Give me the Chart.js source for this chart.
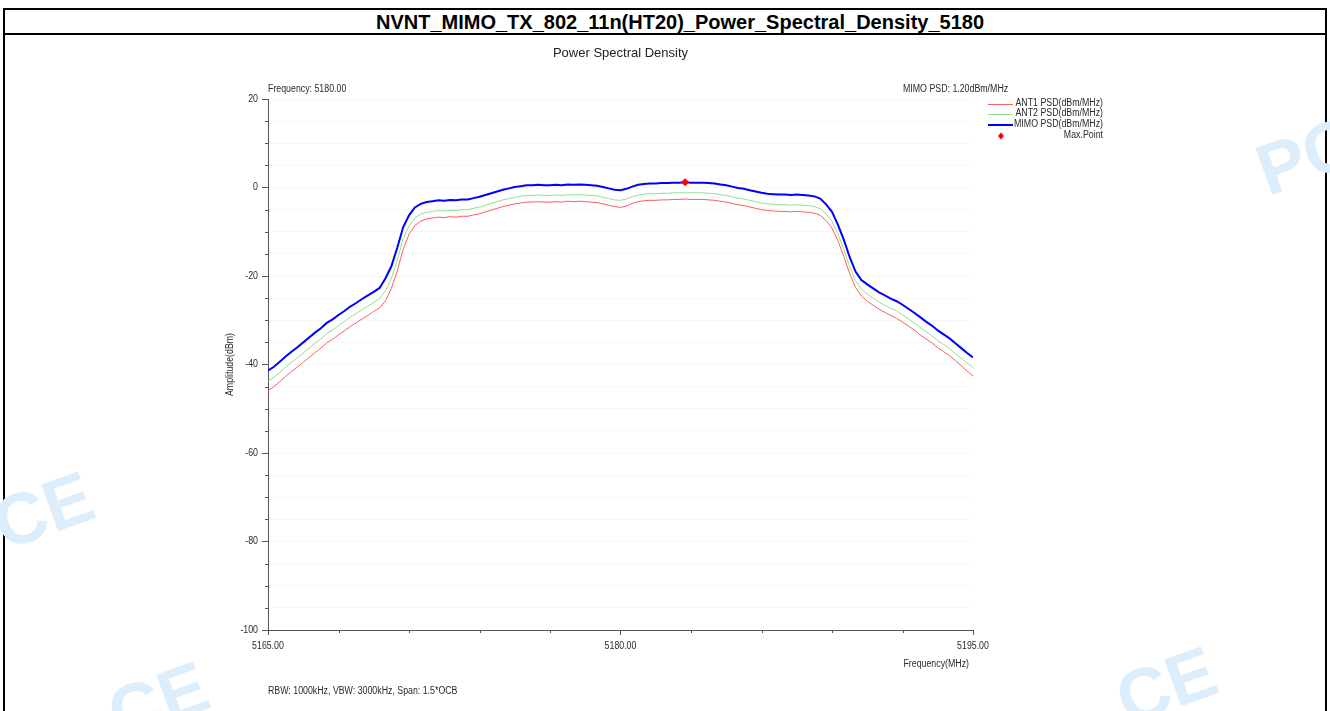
<!DOCTYPE html>
<html>
<head>
<meta charset="utf-8">
<script src="https://cdn.jsdelivr.net/npm/chart.js@4.4.1/dist/chart.umd.min.js"></script>
<style>
  html, body { margin: 0; padding: 0; background: #fff; }
  body { width: 1330px; height: 711px; position: relative; overflow: hidden; font-family: "Liberation Sans", Arial, sans-serif; }
  #frame { position: absolute; left: 3px; top: 8px; width: 1324px; height: 760px; border: 2px solid #000; box-sizing: border-box; }
  #sep { position: absolute; left: 3px; top: 33px; width: 1324px; height: 2px; background: #000; }
  #title { position: absolute; left: 30px; top: 10px; width: 1300px; height: 23px; line-height: 24px; text-align: center; font-weight: bold; font-size: 20px; color: #000; }
  #c { position: absolute; left: 0; top: 0; }
</style>
</head>
<body>
<div id="frame"></div>
<div id="sep"></div>
<div id="title">NVNT_MIMO_TX_802_11n(HT20)_Power_Spectral_Density_5180</div>
<canvas id="c" width="1330" height="711"></canvas>
<script>
// ---- data (0.25 MHz steps from 5165 to 5195) ----
const freqStart = 5165;
const freqStep = 0.25;

const ant1Psd = [
  -45.9, -45.0, -43.9, -42.7, -41.6, -40.6, -39.5, -38.4, -37.3, -36.3,
  -35.1, -34.3, -33.3, -32.4, -31.4, -30.6, -29.7, -28.9, -28.0, -27.2,
  -25.6, -22.8, -18.9, -14.0, -10.6, -8.6, -7.6, -7.1, -6.9, -6.7,
  -6.8, -6.6, -6.7, -6.5, -6.5, -6.2, -5.9, -5.5, -5.1, -4.7,
  -4.3, -4.0, -3.7, -3.5, -3.3, -3.3, -3.2, -3.3, -3.3, -3.2,
  -3.3, -3.1, -3.2, -3.1, -3.2, -3.3, -3.4, -3.7, -4.0, -4.3,
  -4.5, -4.2, -3.6, -3.2, -3.0, -2.9, -2.9, -2.8, -2.8, -2.7,
  -2.7, -2.6, -2.7, -2.7, -2.7, -2.8, -2.9, -3.1, -3.3, -3.6,
  -3.9, -4.1, -4.4, -4.7, -5.0, -5.2, -5.3, -5.4, -5.4, -5.5,
  -5.4, -5.5, -5.6, -5.8, -6.3, -7.5, -9.2, -12.0, -15.6, -19.4,
  -22.6, -24.5, -25.7, -26.6, -27.5, -28.2, -28.9, -29.6, -30.4, -31.3,
  -32.2, -33.3, -34.2, -35.1, -36.2, -37.1, -38.0, -39.1, -40.3, -41.5,
  -42.6
];

const ant2Psd = [
  -43.8, -42.9, -41.8, -40.6, -39.5, -38.5, -37.4, -36.3, -35.2, -34.2,
  -33.0, -32.2, -31.2, -30.3, -29.3, -28.5, -27.6, -26.8, -26.0, -25.1,
  -23.3, -20.5, -16.4, -11.6, -8.7, -6.9, -6.0, -5.6, -5.4, -5.2,
  -5.3, -5.1, -5.2, -5.0, -5.0, -4.7, -4.4, -4.0, -3.6, -3.2,
  -2.8, -2.5, -2.2, -2.0, -1.8, -1.8, -1.7, -1.8, -1.8, -1.7,
  -1.8, -1.6, -1.7, -1.6, -1.7, -1.8, -1.9, -2.2, -2.5, -2.8,
  -2.9, -2.6, -2.1, -1.7, -1.5, -1.4, -1.4, -1.3, -1.3, -1.2,
  -1.2, -1.2, -1.2, -1.2, -1.2, -1.3, -1.4, -1.6, -1.8, -2.1,
  -2.4, -2.6, -2.9, -3.2, -3.5, -3.7, -3.8, -3.9, -3.9, -4.0,
  -3.9, -4.0, -4.1, -4.3, -4.8, -6.0, -7.6, -10.5, -14.0, -17.9,
  -21.1, -23.0, -24.1, -25.0, -25.9, -26.6, -27.3, -27.9, -28.8, -29.7,
  -30.6, -31.6, -32.6, -33.5, -34.6, -35.5, -36.4, -37.5, -38.6, -39.7,
  -40.7
];

const mimoPsd = [
  -41.4, -40.5, -39.4, -38.2, -37.1, -36.1, -35.0, -33.9, -32.8, -31.8,
  -30.6, -29.8, -28.8, -27.9, -26.9, -26.1, -25.2, -24.4, -23.6, -22.7,
  -20.5, -17.8, -13.6, -9.0, -6.3, -4.5, -3.7, -3.3, -3.1, -2.9,
  -3.0, -2.8, -2.9, -2.7, -2.7, -2.4, -2.1, -1.7, -1.3, -0.9,
  -0.5, -0.2, 0.1, 0.3, 0.5, 0.5, 0.6, 0.5, 0.5, 0.6,
  0.5, 0.7, 0.6, 0.7, 0.6, 0.5, 0.4, 0.1, -0.2, -0.5,
  -0.6, -0.3, 0.2, 0.6, 0.8, 0.9, 0.9, 1.0, 1.0, 1.1,
  1.1, 1.2, 1.1, 1.1, 1.1, 1.0, 0.9, 0.7, 0.5, 0.2,
  -0.1, -0.3, -0.6, -0.9, -1.2, -1.4, -1.5, -1.6, -1.6, -1.7,
  -1.6, -1.7, -1.8, -2.0, -2.5, -3.8, -5.5, -8.4, -11.8, -15.7,
  -19.0, -20.9, -21.9, -22.8, -23.7, -24.4, -25.1, -25.7, -26.5, -27.4,
  -28.3, -29.3, -30.3, -31.2, -32.3, -33.2, -34.1, -35.2, -36.3, -37.4,
  -38.4
];

const maxPointFreq = 5182.75;
const maxPointValue = 1.20;

const xMajorTicks = [5165, 5180, 5195];
const yMajorTicks = [20, 0, -20, -40, -60, -80, -100];

const seriesLabels = ['ANT1 PSD(dBm/MHz)', 'ANT2 PSD(dBm/MHz)', 'MIMO PSD(dBm/MHz)', 'Max.Point'];
const seriesColors = ['#ff5c5c', '#90e090', '#0000ff', '#ff0000'];

function toPoints(values) {
  return values.map((v, i) => ({ x: freqStart + i * freqStep, y: v }));
}

/* ---------- text helper (chart text is slightly condensed) ---------- */
function drawText(ctx, s, x, y, size, align, opts = {}) {
  ctx.save();
  ctx.font = (opts.bold ? 'bold ' : '') + size + 'px "Liberation Sans", Arial, sans-serif';
  ctx.fillStyle = opts.color || '#2a2a2a';
  ctx.textAlign = align;
  ctx.textBaseline = 'middle';
  ctx.translate(x, y);
  if (opts.rotate) ctx.rotate(opts.rotate);
  ctx.scale(opts.sx || 0.88, 1);
  ctx.fillText(s, 0, 0);
  ctx.restore();
}

const decorPlugin = {
  id: 'decor',
  beforeDraw(chart) {
    // faint page watermark fragments outside the chart picture
    const ctx = chart.ctx;
    const wm = { bold: true, color: '#dcedfb', sx: 1, rotate: -0.35 };
    drawText(ctx, 'CE', 45, 515, 72, 'center', wm);
    drawText(ctx, 'PO', 1310, 160, 72, 'center', wm);
    drawText(ctx, 'CE', 1168, 690, 72, 'center', wm);
    drawText(ctx, 'CE', 160, 705, 72, 'center', wm);
  },
  afterDraw(chart) {
    const { ctx, chartArea: a, scales: { x, y } } = chart;

    // minor ticks
    ctx.save();
    ctx.strokeStyle = '#555';
    ctx.lineWidth = 1;
    ctx.beginPath();
    y.ticks.forEach(t => {
      if (t.value % 20 !== 0) {
        const py = Math.round(y.getPixelForValue(t.value)) + 0.5;
        ctx.moveTo(a.left - 3, py); ctx.lineTo(a.left, py);
      }
    });
    x.ticks.forEach(t => {
      if ((t.value - freqStart) % 15 !== 0) {
        const px = Math.round(x.getPixelForValue(t.value)) + 0.5;
        ctx.moveTo(px, a.bottom); ctx.lineTo(px, a.bottom + 3);
      }
    });
    ctx.stroke();
    ctx.restore();

    // tick labels
    yMajorTicks.forEach(v => drawText(ctx, String(v), a.left - 10, y.getPixelForValue(v), 10, 'right'));
    xMajorTicks.forEach(v => drawText(ctx, v.toFixed(2), x.getPixelForValue(v), a.bottom + 16, 10, 'center'));

    // titles and notes
    drawText(ctx, 'Power Spectral Density', (a.left + a.right) / 2, 53, 13, 'center', { sx: 1, color: '#222' });
    drawText(ctx, 'Frequency: 5180.00', a.left, 89, 10, 'left');
    drawText(ctx, 'MIMO PSD: 1.20dBm/MHz', a.right - 70, 89, 10, 'left');
    drawText(ctx, 'Amplitude(dBm)', a.left - 38, (a.top + a.bottom) / 2, 10, 'center', { rotate: -Math.PI / 2 });
    drawText(ctx, 'Frequency(MHz)', a.right - 4, a.bottom + 34, 10, 'right');
    drawText(ctx, 'RBW: 1000kHz, VBW: 3000kHz, Span: 1.5*OCB', a.left, a.bottom + 61, 10, 'left');

    // legend
    const lx0 = a.right + 15, lx1 = a.right + 40, tx = a.right + 130;
    const rows = [104.5, 114.5, 125, 136];
    ctx.save();
    for (let i = 0; i < 3; i++) {
      ctx.strokeStyle = seriesColors[i];
      ctx.lineWidth = i === 2 ? 2 : 1;
      ctx.beginPath();
      ctx.moveTo(lx0, rows[i]); ctx.lineTo(lx1, rows[i]);
      ctx.stroke();
    }
    ctx.fillStyle = seriesColors[3];
    ctx.beginPath();
    const dx = a.right + 28, dy = rows[3];
    ctx.moveTo(dx, dy - 3.5); ctx.lineTo(dx + 3, dy); ctx.lineTo(dx, dy + 3.5); ctx.lineTo(dx - 3, dy);
    ctx.closePath(); ctx.fill();
    ctx.restore();
    seriesLabels.forEach((s, i) => drawText(ctx, s, tx, rows[i] - 1, 10, 'right'));
  }
};

new Chart(document.getElementById('c'), {
  type: 'line',
  data: {
    datasets: [
      { label: seriesLabels[0], data: toPoints(ant1Psd), borderColor: seriesColors[0], borderWidth: 1, pointRadius: 0, tension: 0, order: 3 },
      { label: seriesLabels[1], data: toPoints(ant2Psd), borderColor: seriesColors[1], borderWidth: 1, pointRadius: 0, tension: 0, order: 2 },
      { label: seriesLabels[2], data: toPoints(mimoPsd), borderColor: seriesColors[2], borderWidth: 2, pointRadius: 0, tension: 0, order: 1 },
      { label: seriesLabels[3], data: [{ x: maxPointFreq, y: maxPointValue }], showLine: false, pointStyle: 'rectRot',
        pointRadius: 3.5, backgroundColor: seriesColors[3], borderColor: seriesColors[3], order: 0 }
    ]
  },
  options: {
    responsive: false,
    animation: false,
    devicePixelRatio: 1,
    layout: { padding: { left: 228, right: 357, top: 99, bottom: 51 } },
    plugins: { legend: { display: false }, title: { display: false }, tooltip: { enabled: false } },
    scales: {
      x: {
        type: 'linear', min: 5165, max: 5195,
        ticks: { stepSize: 3, display: false, maxTicksLimit: 50, autoSkip: false },
        grid: { drawOnChartArea: false, tickLength: 5,
          tickColor: c => ((c.tick.value - freqStart) % 15 === 0 ? '#555' : 'rgba(0,0,0,0)') },
        border: { color: '#555' },
        afterFit: s => { s.height = 30; }
      },
      y: {
        type: 'linear', min: -100, max: 20,
        ticks: { stepSize: 5, display: false, maxTicksLimit: 50, autoSkip: false },
        grid: { color: '#f7f7f7', tickLength: 6,
          tickColor: c => (c.tick.value % 20 === 0 ? '#555' : 'rgba(0,0,0,0)') },
        border: { color: '#555' },
        afterFit: s => { s.width = 40; }
      }
    }
  },
  plugins: [decorPlugin]
});
</script>
</body>
</html>
